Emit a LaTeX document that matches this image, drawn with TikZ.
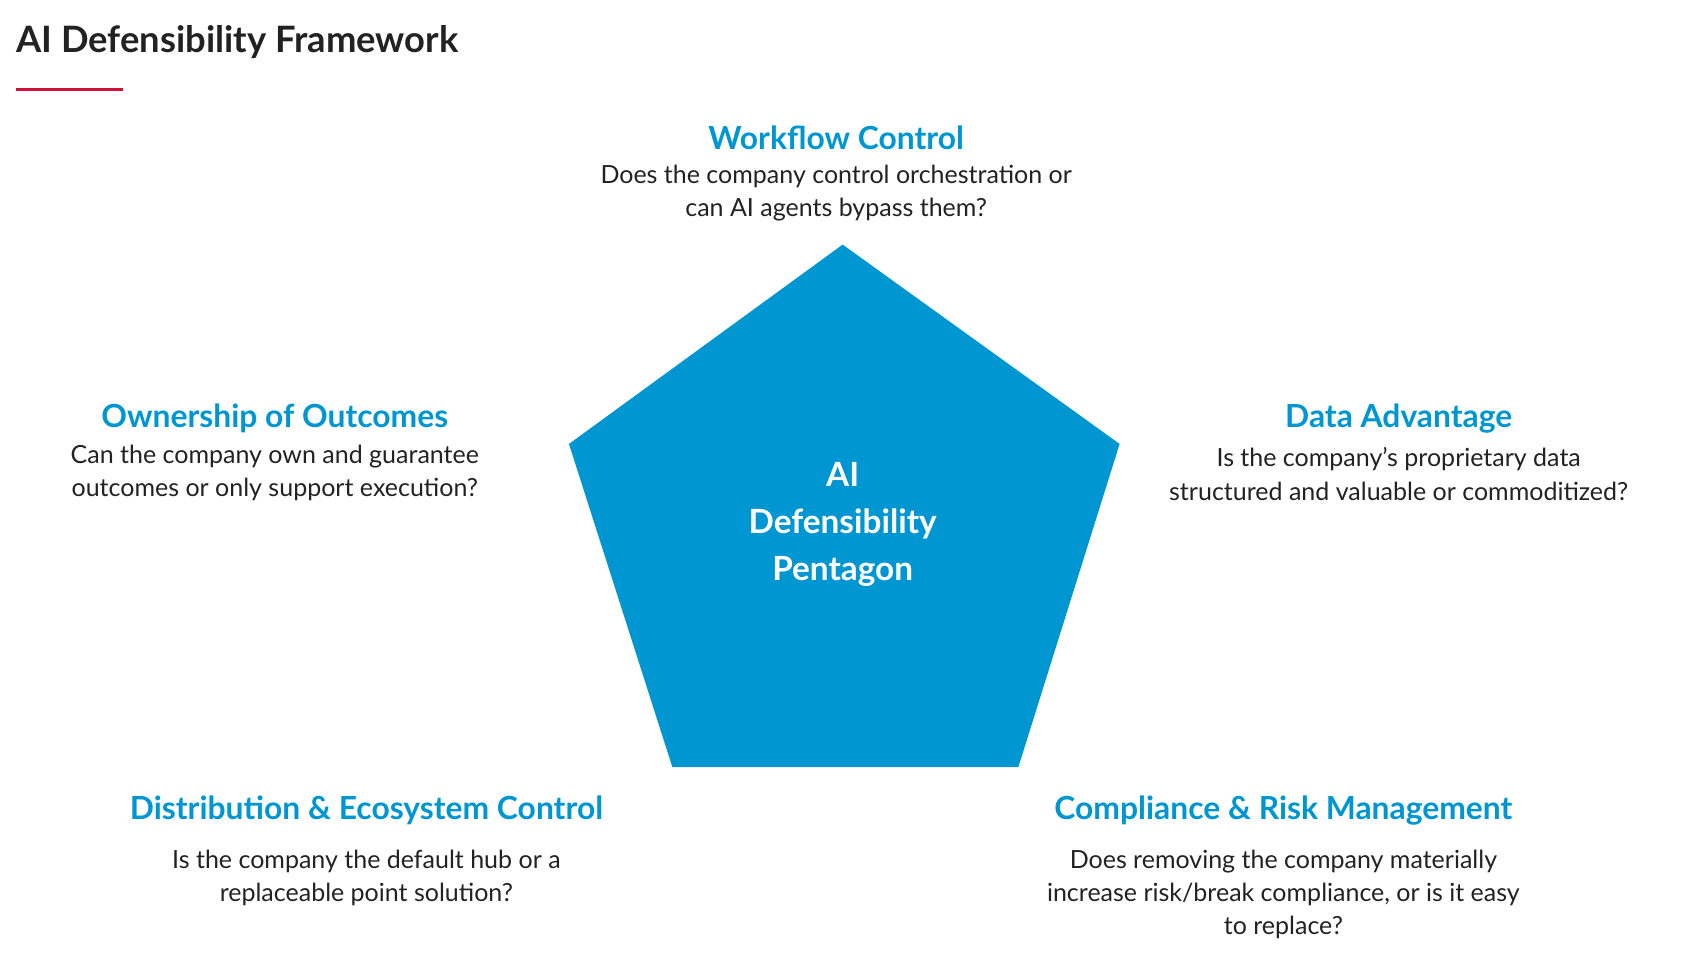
\documentclass[tikz,border=0pt]{standalone}
\usepackage{fontspec}
\setmainfont{Lato}
\usetikzlibrary{positioning}
\definecolor{penta}{HTML}{0096D2}
\definecolor{titlered}{HTML}{D0103A}
\definecolor{ink}{HTML}{222222}
\tikzset{
  heading/.style={text=penta, font=\fontsize{42}{48}\selectfont\bfseries, inner sep=0pt},
  question/.style={text=ink, font=\fontsize{33}{44}\selectfont, align=center, inner sep=0pt},
  centre/.style={text=white, font=\fontsize{44}{62}\selectfont\bfseries, align=center, inner sep=0pt}
}
\begin{document}
\begin{tikzpicture}[x=0.05cm, y=-0.05cm]
	\useasboundingbox (0,0) rectangle (1560,884);
	% title
	\node [anchor=west, text=ink, font=\fontsize{48}{56}\selectfont\bfseries, inner sep=0pt] (title) at (15,39) {AI Defensibility Framework};
	\draw [titlered, line width=3.2pt] (15,83) -- (114,83);
	% pentagon
	\fill [penta] (782,227) -- (1039,412) -- (945,712) -- (624,712) -- (528,412) -- cycle;
	\node [centre] (pentagon) at (782,487) {AI\\Defensibility\\Pentagon};
	% top
	\node [heading] (workflow) at (776,128) {Workflow Control};
	\node [question] (workflow_q) at (776,179) {Does the company control orchestration or\\can AI agents bypass them?};
	% left
	\node [heading] (ownership) at (255,388) {Ownership of Outcomes};
	\node [question] (ownership_q) at (255,439) {Can the company own and guarantee\\outcomes or only support execution?};
	% right
	\node [heading] (data) at (1298,388) {Data Advantage};
	\node [question] (data_q) at (1298,440) {Is the company’s proprietary data\\structured and valuable or commoditized?};
	% bottom left
	\node [heading] (distribution) at (340,752) {Distribution \& Ecosystem Control};
	\node [question] (distribution_q) at (340,815) {Is the company the default hub or a\\replaceable point solution?};
	% bottom right
	\node [heading] (compliance) at (1191,752) {Compliance \& Risk Management};
	\node [question] (compliance_q) at (1191,830) {Does removing the company materially\\increase risk/break compliance, or is it easy\\to replace?};
\end{tikzpicture}
\end{document}
